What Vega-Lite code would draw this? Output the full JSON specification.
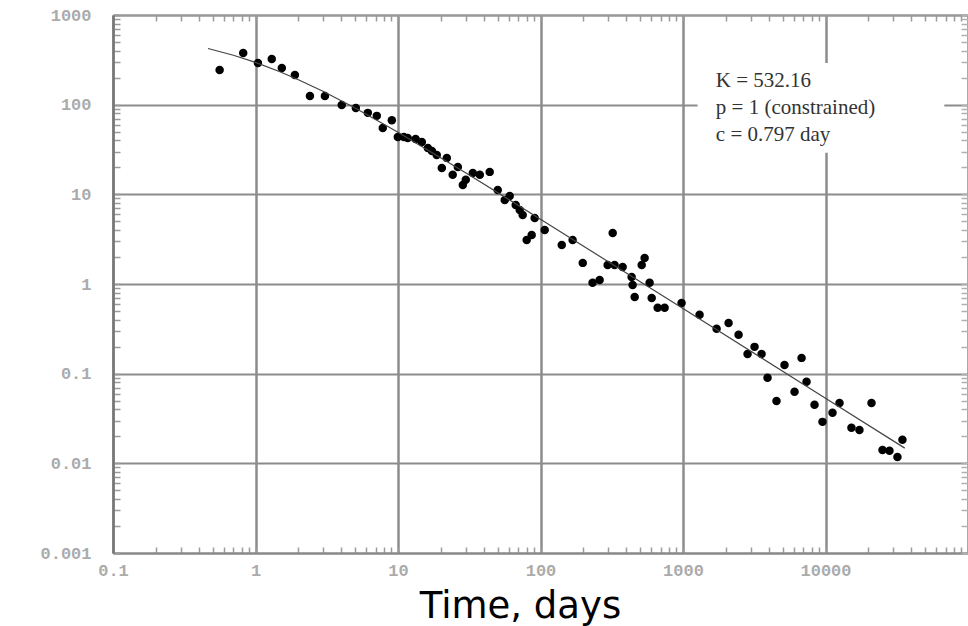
{
  "$schema": "https://vega.github.io/schema/vega-lite/v6.json",
  "width": 855,
  "height": 538,
  "autosize": "none",
  "padding": {"left": 113, "top": 15, "right": 0, "bottom": 73},
  "background": "white",
  "config": {"view": {"stroke": null}},
  "datasets": {
    "obs": [
      {"t": 0.56, "n": 244}, {"t": 0.82, "n": 377}, {"t": 1.04, "n": 292}, {"t": 1.30, "n": 323},
      {"t": 1.53, "n": 257}, {"t": 1.89, "n": 214}, {"t": 2.41, "n": 125}, {"t": 3.07, "n": 125},
      {"t": 4.03, "n": 99}, {"t": 5.06, "n": 92}, {"t": 6.14, "n": 81}, {"t": 7.10, "n": 75},
      {"t": 9.05, "n": 67}, {"t": 7.82, "n": 55}, {"t": 9.97, "n": 43.6}, {"t": 11.0, "n": 43.6},
      {"t": 11.7, "n": 42.5}, {"t": 13.3, "n": 41.5}, {"t": 14.7, "n": 38.4}, {"t": 16.2, "n": 32.9},
      {"t": 17.3, "n": 30.5}, {"t": 18.7, "n": 27.5}, {"t": 20.3, "n": 19.7}, {"t": 22.0, "n": 25.5},
      {"t": 24.2, "n": 16.5}, {"t": 26.3, "n": 20.2}, {"t": 28.5, "n": 12.7}, {"t": 29.9, "n": 14.5},
      {"t": 33.5, "n": 17.3}, {"t": 37.5, "n": 16.5}, {"t": 44.0, "n": 17.8}, {"t": 50.1, "n": 11.2},
      {"t": 56.1, "n": 8.66}, {"t": 60.8, "n": 9.6}, {"t": 67.0, "n": 7.62}, {"t": 71.5, "n": 6.70},
      {"t": 75.0, "n": 5.89}, {"t": 80.0, "n": 3.10}, {"t": 86.7, "n": 3.53}, {"t": 91.0, "n": 5.46},
      {"t": 107, "n": 4.01}, {"t": 141, "n": 2.73}, {"t": 168, "n": 3.10}, {"t": 198, "n": 1.72},
      {"t": 232, "n": 1.03}, {"t": 260, "n": 1.11}, {"t": 321, "n": 3.71}, {"t": 296, "n": 1.63},
      {"t": 331, "n": 1.63}, {"t": 377, "n": 1.55}, {"t": 436, "n": 1.20}, {"t": 443, "n": 0.977},
      {"t": 513, "n": 1.63}, {"t": 538, "n": 1.95}, {"t": 583, "n": 1.03}, {"t": 458, "n": 0.718},
      {"t": 603, "n": 0.700}, {"t": 664, "n": 0.542}, {"t": 743, "n": 0.542}, {"t": 977, "n": 0.615},
      {"t": 1307, "n": 0.453}, {"t": 1721, "n": 0.316}, {"t": 2089, "n": 0.368}, {"t": 2455, "n": 0.271},
      {"t": 2838, "n": 0.166}, {"t": 3177, "n": 0.199}, {"t": 3558, "n": 0.166}, {"t": 3920, "n": 0.0898},
      {"t": 4530, "n": 0.0497}, {"t": 5156, "n": 0.125}, {"t": 6063, "n": 0.0627}, {"t": 6792, "n": 0.150},
      {"t": 7360, "n": 0.0811}, {"t": 8375, "n": 0.0449}, {"t": 9526, "n": 0.0290}, {"t": 11200, "n": 0.0366},
      {"t": 12540, "n": 0.0472}, {"t": 15210, "n": 0.0249}, {"t": 17300, "n": 0.0236}, {"t": 21030, "n": 0.0472},
      {"t": 25120, "n": 0.0141}, {"t": 28120, "n": 0.0138}, {"t": 31990, "n": 0.0118}, {"t": 34670, "n": 0.0183}
    ],
    "fit": [
      {"t": 0.464, "n": 423}, {"t": 0.7, "n": 355.5}, {"t": 1, "n": 296}, {"t": 1.5, "n": 231.7},
      {"t": 2, "n": 190}, {"t": 3, "n": 140.2}, {"t": 5, "n": 91.8}, {"t": 10, "n": 49.3},
      {"t": 30, "n": 17.3}, {"t": 100, "n": 5.28}, {"t": 1000, "n": 0.532}, {"t": 10000, "n": 0.0532},
      {"t": 36000, "n": 0.01478}
    ],
    "note": [
      {"label": "K = 532.16\np = 1 (constrained)\nc = 0.797 day"}
    ]
  },
  "resolve": {"axis": {"x": "independent", "y": "independent"}},
  "layer": [
    {
      "data": {"name": "obs"},
      "mark": {"type": "point", "filled": true, "shape": "circle", "size": 72, "color": "#000", "opacity": 1},
      "encoding": {
        "x": {
          "field": "t", "type": "quantitative",
          "scale": {"type": "log", "domain": [0.1, 100000], "nice": false},
          "axis": {
            "orient": "bottom",
            "values": [0.1,0.2,0.3,0.4,0.5,0.6,0.7,0.8,0.9,1,2,3,4,5,6,7,8,9,10,20,30,40,50,60,70,80,90,100,200,300,400,500,600,700,800,900,1000,2000,3000,4000,5000,6000,7000,8000,9000,10000,20000,30000,40000,50000,60000,70000,80000,90000,100000],
            "labelExpr": "(abs(log(datum.value)/LN10 - round(log(datum.value)/LN10)) < 0.001 && datum.value < 50000) ? format(datum.value, '~g') : ''",
            "grid": true,
            "gridColor": "#8c8c8c",
            "gridWidth": 2.5,
            "gridOpacity": {"condition": {"test": "abs(log(datum.value)/LN10 - round(log(datum.value)/LN10)) < 0.001", "value": 1}, "value": 0},
            "tickSize": -6,
            "tickColor": "#9a9a9a",
            "tickWidth": 1.5,
            "domainColor": "#888888",
            "domainWidth": 2,
            "labelFont": "Liberation Mono",
            "labelFontSize": 17,
            "labelFontWeight": "bold",
            "labelColor": "#ababab",
            "labelPadding": 15,
            "labelFlush": false,
            "labelOverlap": false,
            "title": "Time, days",
            "titleFont": "DejaVu Sans",
            "titleFontSize": 37,
            "titleFontWeight": "normal",
            "titleColor": "#000000",
            "titleX": 407,
            "titleY": 64,
            "titleAlign": "center",
            "titleBaseline": "alphabetic"
          }
        },
        "y": {
          "field": "n", "type": "quantitative",
          "scale": {"type": "log", "domain": [0.001, 1000], "nice": false},
          "axis": {
            "orient": "left",
            "values": [0.001,0.002,0.003,0.004,0.005,0.006,0.007,0.008,0.009,0.01,0.02,0.03,0.04,0.05,0.06,0.07,0.08,0.09,0.1,0.2,0.3,0.4,0.5,0.6,0.7,0.8,0.9,1,2,3,4,5,6,7,8,9,10,20,30,40,50,60,70,80,90,100,200,300,400,500,600,700,800,900,1000],
            "labelExpr": "abs(log(datum.value)/LN10 - round(log(datum.value)/LN10)) < 0.001 ? format(datum.value, '~g') : ''",
            "grid": true,
            "gridColor": "#8c8c8c",
            "gridWidth": 2,
            "gridOpacity": {"condition": {"test": "abs(log(datum.value)/LN10 - round(log(datum.value)/LN10)) < 0.001", "value": 1}, "value": 0},
            "tickSize": -7,
            "tickColor": "#9a9a9a",
            "tickWidth": 1.5,
            "domainColor": "#777777",
            "domainWidth": 2.5,
            "labelFont": "Liberation Mono",
            "labelFontSize": 17,
            "labelFontWeight": "bold",
            "labelColor": "#ababab",
            "labelPadding": 29,
            "labelFlush": false,
            "labelOverlap": false,
            "title": null
          }
        }
      }
    },
    {
      "data": {"name": "fit"},
      "mark": {"type": "line", "color": "#444444", "strokeWidth": 1.2},
      "encoding": {
        "x": {
          "field": "t", "type": "quantitative",
          "axis": {
            "orient": "top",
            "values": [0.1,0.2,0.3,0.4,0.5,0.6,0.7,0.8,0.9,1,2,3,4,5,6,7,8,9,10,20,30,40,50,60,70,80,90,100,200,300,400,500,600,700,800,900,1000,2000,3000,4000,5000,6000,7000,8000,9000,10000,20000,30000,40000,50000,60000,70000,80000,90000,100000],
            "labels": false,
            "grid": false,
            "tickSize": -6,
            "tickColor": "#9a9a9a",
            "tickWidth": 1.5,
            "domainColor": "#999999",
            "domainWidth": 2,
            "title": null
          }
        },
        "y": {
          "field": "n", "type": "quantitative",
          "axis": {
            "orient": "right",
            "values": [0.001,0.002,0.003,0.004,0.005,0.006,0.007,0.008,0.009,0.01,0.02,0.03,0.04,0.05,0.06,0.07,0.08,0.09,0.1,0.2,0.3,0.4,0.5,0.6,0.7,0.8,0.9,1,2,3,4,5,6,7,8,9,10,20,30,40,50,60,70,80,90,100,200,300,400,500,600,700,800,900,1000],
            "labels": false,
            "grid": false,
            "tickSize": -7,
            "tickColor": "#b0b0b0",
            "tickWidth": 1.5,
            "domainColor": "#cccccc",
            "domainWidth": 1,
            "title": null
          }
        }
      }
    },
    {
      "data": {"name": "note"},
      "mark": {"type": "rect", "color": "white"},
      "encoding": {
        "x": {"datum": 1265, "type": "quantitative", "axis": null},
        "x2": {"datum": 68200},
        "y": {"datum": 292, "type": "quantitative", "axis": null},
        "y2": {"datum": 29}
      }
    },
    {
      "data": {"name": "note"},
      "mark": {"type": "text", "align": "left", "baseline": "top", "font": "Liberation Serif", "fontSize": 21, "lineHeight": 27, "lineBreak": "\n", "color": "#333333"},
      "encoding": {
        "x": {"datum": 1700, "type": "quantitative", "axis": null},
        "y": {"datum": 245, "type": "quantitative", "axis": null},
        "text": {"field": "label"}
      }
    }
  ]
}
